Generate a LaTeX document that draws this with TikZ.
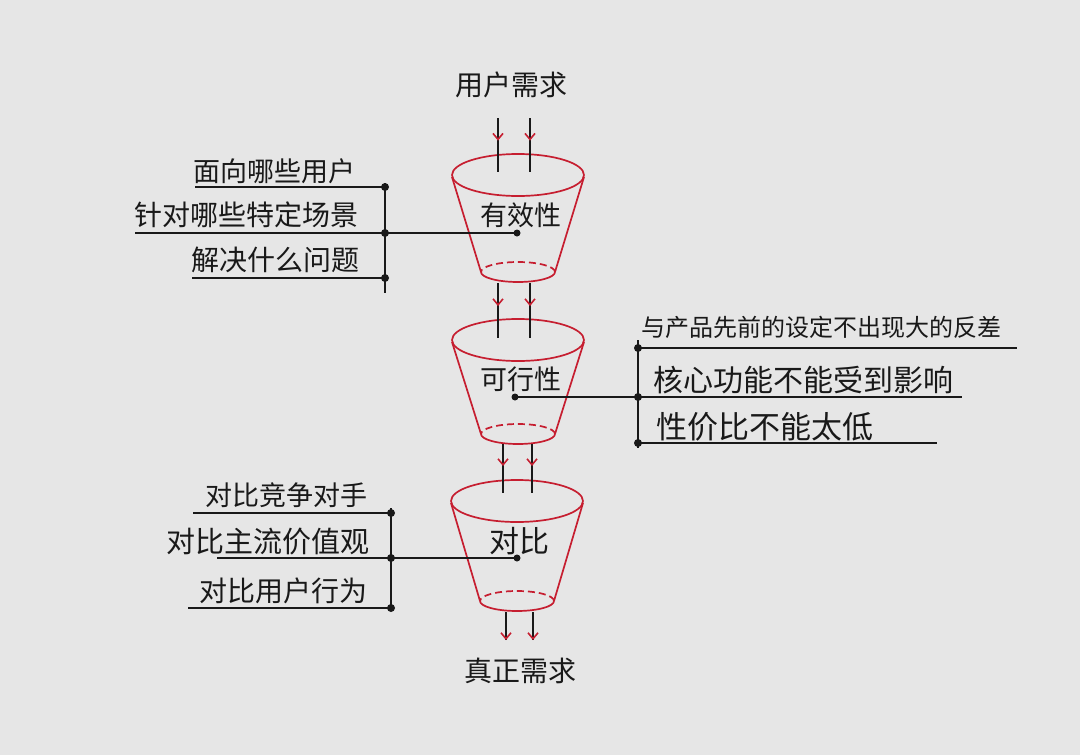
\documentclass[tikz,border=0pt]{standalone}
\usepackage{fontspec}
\newfontfamily\cjk{Noto Sans CJK SC}
\usetikzlibrary{arrows.meta,decorations.markings}
\definecolor{bg}{RGB}{230,230,230}
\definecolor{pen}{RGB}{25,25,25}
\definecolor{redink}{RGB}{198,30,48}
\newcommand\fs[1]{\fontsize{#1}{#1}\selectfont}
\tikzset{
  lbl/.style={font=\cjk, text=pen, inner sep=0pt, anchor=center},
  rim/.style={draw=redink, line width=1.7pt},
  wire/.style={draw=pen, line width=1.9pt},
  flow/.style={draw=pen, line width=1.8pt, postaction={decorate},
    decoration={markings, mark=at position #1 with {\arrow[redink]{Straight Barb[length=6pt,width=10pt,line width=1.6pt]}}}},
  jdot/.style={circle, fill=pen, inner sep=0pt, minimum size=8pt},
  fdot/.style={circle, fill=pen, inner sep=0pt, minimum size=7pt},
}
\begin{document}
\begin{tikzpicture}[x=1pt,y=-1pt]
\useasboundingbox (0,0) rectangle (1080,755);
\fill[bg] (0,0) rectangle (1080,755);

% funnels
\foreach \n/\cx/\cy/\by in {1/518/175/272, 2/518/340/434, 3/517/501/601}{
  \draw[rim] (\cx,\cy) ellipse [x radius=66pt, y radius=21pt];
  \draw[rim] (\cx-66,\cy+2) -- (\cx-37,\by);
  \draw[rim] (\cx+66,\cy+2) -- (\cx+37,\by);
  \draw[rim, dashed, dash pattern=on 7pt off 4pt] (\cx+37,\by) arc[start angle=0, end angle=180, x radius=37pt, y radius=10pt];
  \draw[rim] (\cx-37,\by) arc[start angle=180, end angle=360, x radius=37pt, y radius=10pt];
}

% texts
\node[lbl, font=\cjk\fs{28}] (t0) at (511,85) {用户需求};
\node[lbl, font=\cjk\fs{27}] (f1) at (521,215) {有效性};
\node[lbl, font=\cjk\fs{27}] (f2) at (521,379) {可行性};
\node[lbl, font=\cjk\fs{30}] (f3) at (519,541) {对比};
\node[lbl, font=\cjk\fs{28}] (t9) at (520,671) {真正需求};

\node[lbl, font=\cjk\fs{27}] (a1) at (274,171) {面向哪些用户};
\node[lbl, font=\cjk\fs{28}] (a2) at (246,215) {针对哪些特定场景};
\node[lbl, font=\cjk\fs{28}] (a3) at (275,260) {解决什么问题};

\node[lbl, font=\cjk\fs{24}] (b1) at (821,327) {与产品先前的设定不出现大的反差};
\node[lbl, font=\cjk\fs{30}] (b2) at (803,380) {核心功能不能受到影响};
\node[lbl, font=\cjk\fs{31}] (b3) at (765,427) {性价比不能太低};

\node[lbl, font=\cjk\fs{27}] (c1) at (286,495) {对比竞争对手};
\node[lbl, font=\cjk\fs{29}] (c2) at (268,542) {对比主流价值观};
\node[lbl, font=\cjk\fs{28}] (c3) at (283,591) {对比用户行为};

% flow arrows
\coordinate (i1) at (498,118); \coordinate (i1e) at (498,172);
\coordinate (i2) at (530,118); \coordinate (i2e) at (530,172);
\draw[flow=0.42] (i1) -- (i1e);
\draw[flow=0.42] (i2) -- (i2e);
\coordinate (m1) at (498,283); \coordinate (m1e) at (498,338);
\coordinate (m2) at (530,283); \coordinate (m2e) at (530,338);
\draw[flow=0.42] (m1) -- (m1e);
\draw[flow=0.42] (m2) -- (m2e);
\coordinate (n1) at (503,444); \coordinate (n1e) at (503,493);
\coordinate (n2) at (532,444); \coordinate (n2e) at (532,493);
\draw[flow=0.45] (n1) -- (n1e);
\draw[flow=0.45] (n2) -- (n2e);
\coordinate (o1) at (506,612); \coordinate (o1e) at (506,640);
\coordinate (o2) at (533,612); \coordinate (o2e) at (533,640);
\draw[flow=1] (o1) -- (o1e);
\draw[flow=1] (o2) -- (o2e);

% group 1 (left)
\node[fdot] (p1) at (517,233) {};
\node[jdot] (j11) at (385,187) {};
\node[jdot] (j12) at (385,233) {};
\node[jdot] (j13) at (385,278) {};
\coordinate (v1a) at (385,183); \coordinate (v1b) at (385,293);
\coordinate (h11) at (195,187); \coordinate (h12) at (135,233); \coordinate (h13) at (192,278);
\draw[wire] (v1a) -- (v1b);
\draw[wire] (h11) -- (j11.center);
\draw[wire] (h12) -- (j12.center) -- (p1.center);
\draw[wire] (h13) -- (j13.center);

% group 2 (right)
\node[fdot] (p2) at (515,397) {};
\node[jdot] (j21) at (638,348) {};
\node[jdot] (j22) at (638,397) {};
\node[jdot] (j23) at (638,443) {};
\coordinate (v2a) at (638,340); \coordinate (v2b) at (638,448);
\coordinate (h21) at (1017,348); \coordinate (h22) at (962,397); \coordinate (h23) at (937,443);
\draw[wire] (v2a) -- (v2b);
\draw[wire] (j21.center) -- (h21);
\draw[wire] (p2.center) -- (j22.center) -- (h22);
\draw[wire] (j23.center) -- (h23);

% group 3 (left)
\node[fdot] (p3) at (517,558) {};
\node[jdot] (j31) at (391,513) {};
\node[jdot] (j32) at (391,558) {};
\node[jdot] (j33) at (391,608) {};
\coordinate (v3a) at (391,508); \coordinate (v3b) at (391,611);
\coordinate (h31) at (193,513); \coordinate (h32) at (217,558); \coordinate (h33) at (188,608);
\draw[wire] (v3a) -- (v3b);
\draw[wire] (h31) -- (j31.center);
\draw[wire] (h32) -- (j32.center) -- (p3.center);
\draw[wire] (h33) -- (j33.center);
\end{tikzpicture}
\end{document}
